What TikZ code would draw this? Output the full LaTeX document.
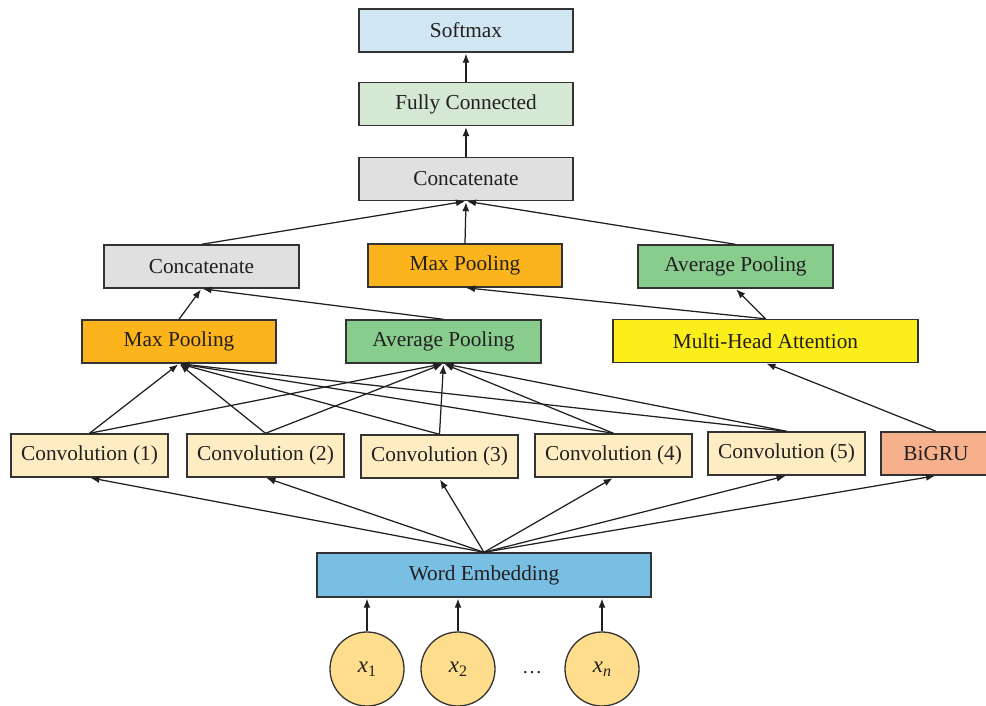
\documentclass[tikz,border=0pt]{standalone}
\usepackage{fontspec}
\setmainfont{Liberation Serif}
\usetikzlibrary{arrows.meta}

\definecolor{edge}{HTML}{333333}
\definecolor{ink}{HTML}{231F20}
\definecolor{softblue}{HTML}{D0E6F3}
\definecolor{fcgreen}{HTML}{D5E8D4}
\definecolor{catgray}{HTML}{E0E0E0}
\definecolor{maxorange}{HTML}{FBB41C}
\definecolor{avggreen}{HTML}{88CC8E}
\definecolor{attyellow}{HTML}{FCEE1A}
\definecolor{convcream}{HTML}{FEEDC2}
\definecolor{grusalmon}{HTML}{F7B08C}
\definecolor{embblue}{HTML}{79BFE3}
\definecolor{tokyellow}{HTML}{FEDD8C}

\tikzset{
  box/.style={draw=edge, line width=1.4pt, minimum height=43pt, inner sep=0pt,
    font=\fontsize{21.3}{24}\selectfont, text=ink},
  token/.style={circle, draw=edge, line width=1.3pt, fill=tokyellow,
    minimum size=74pt, inner sep=0pt, font=\fontsize{23}{25}\selectfont, text=ink},
  link/.style={draw=ink, line width=1.25pt, shorten >=1pt,
    -{Latex[length=9pt,width=7pt]}},
}

\newcommand{\tok}[1]{\textit{x}\raisebox{-0.4ex}{\fontsize{16}{17}\selectfont #1}}

\begin{document}
\begin{tikzpicture}[x=1pt,y=-1pt]
\clip (0,0) rectangle (986,705);

% output head
\node[box, fill=softblue,  minimum width=214pt] (soft) at (466,30.5) {Softmax};
\node[box, fill=fcgreen,   minimum width=214pt] (fc)   at (466,104)  {Fully Connected};
\node[box, fill=catgray,   minimum width=214pt] (cat)  at (466,179)  {Concatenate};

% second level
\node[box, fill=catgray,   minimum width=195pt] (catl) at (201.5,266.5) {Concatenate};
\node[box, fill=maxorange, minimum width=194pt] (mpm)  at (465,265.5)   {Max Pooling};
\node[box, fill=avggreen,  minimum width=195pt] (apr)  at (735.5,266.5) {Average Pooling};

% pooling / attention level
\node[box, fill=maxorange, minimum width=194pt] (mpl) at (179,341.5) {Max Pooling};
\node[box, fill=avggreen,  minimum width=195pt] (apm) at (443.5,341.5) {Average Pooling};
\node[box, fill=attyellow, minimum width=305pt] (mha) at (765.5,341)  {Multi-Head Attention};

% feature extractors
\node[box, fill=convcream, minimum width=157pt] (c1) at (89.5,455.5)  {Convolution (1)};
\node[box, fill=convcream, minimum width=157pt] (c2) at (265.5,455.5) {Convolution (2)};
\node[box, fill=convcream, minimum width=157pt] (c3) at (439.5,456.5) {Convolution (3)};
\node[box, fill=convcream, minimum width=157pt] (c4) at (613.5,455.5) {Convolution (4)};
\node[box, fill=convcream, minimum width=157pt] (c5) at (786.5,453.5) {Convolution (5)};
\node[box, fill=grusalmon, minimum width=110pt] (gru) at (936,453.5)  {BiGRU};

% embedding and inputs
\node[box, fill=embblue, minimum width=334pt, minimum height=44pt] (emb) at (484,575) {Word Embedding};
\node[token] (x1) at (367,669) {\tok{1}};
\node[token] (x2) at (458,669) {\tok{2}};
\node[token] (xn) at (602,669) {\tok{\textit{n}}};
\node[text=ink, font=\fontsize{20}{22}\selectfont] (dots) at (532,673) {…};

% inputs into the embedding
\draw[link] (x1.north) -- (x1.north |- emb.south);
\draw[link] (x2.north) -- (x2.north |- emb.south);
\draw[link] (xn.north) -- (xn.north |- emb.south);

% embedding fans out
\foreach \n in {c1,c2,c3,c4,c5,gru}
  \draw[link] (emb.north) -- (\n.south);

% convolutions into both pooling branches
\foreach \n in {c1,c2,c3,c4,c5} {
  \draw[link] (\n.north) -- (mpl.south);
  \draw[link] (\n.north) -- (apm.south);
}

% recurrent branch
\draw[link] (gru.north) -- (mha.south);
\draw[link] (mha.north) -- (apr.south);
\draw[link] (mha.north) -- (mpm.south);

% merge of the convolution branch
\draw[link] (mpl.north) -- (catl.south);
\draw[link] (apm.north) -- (catl.south);

% final merge
\draw[link] (catl.north) -- (cat.south);
\draw[link] (mpm.north) -- (cat.south);
\draw[link] (apr.north) -- (cat.south);
\draw[link] (cat) -- (fc);
\draw[link] (fc) -- (soft);
\end{tikzpicture}
\end{document}
